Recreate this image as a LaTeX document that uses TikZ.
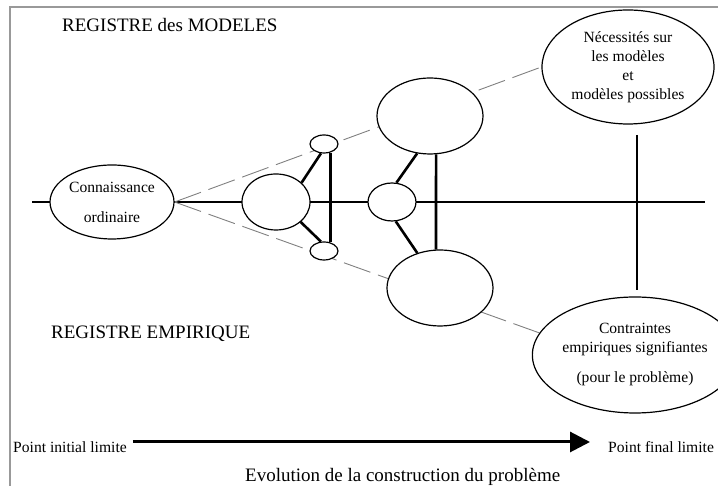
\documentclass[tikz,border=0pt]{standalone}
\usepackage{fontspec}
\setmainfont{Liberation Serif}
\usetikzlibrary{shapes.geometric,arrows.meta,backgrounds}

\begin{document}
\begin{tikzpicture}[x=1pt,y=1pt,
    blob/.style={ellipse,draw,fill=white,line width=1.2pt,inner sep=0pt},
    tie/.style={line width=2.6pt},
    guide/.style={draw=gray,line width=0.9pt,dash pattern=on 28pt off 8pt},
    big/.style={font=\fontsize{19pt}{23pt}\selectfont,inner sep=0pt},
    small/.style={font=\fontsize{15.6pt}{19pt}\selectfont,align=center}]
        \useasboundingbox (0,0) rectangle (718,486);
        %\draw[help lines,step=50] (0,0) grid (718,486);
        \draw[gray!80,line width=1.2pt] (718,479) -- (10,479) -- (10,0);
        % ellipses with text
        \node[blob,small,minimum width=124,minimum height=74] (conn) at (112,284)
            {Connaissance\\[11pt]ordinaire};
        \node[blob,small,minimum width=172,minimum height=114] (nec) at (628,419)
            {N\'ecessit\'es sur\\les mod\`eles\\et\hspace*{24pt}\\mod\`eles possibles};
        \node[blob,small,minimum width=166,minimum height=116] (con) at (635,131)
            {Contraintes\\empiriques signifiantes\\[11pt](pour le probl\`eme)};
        % empty ellipses
        \foreach \n/\x/\y/\w/\h in {m1/276/284/68/56, m2/392/284/48/38,
                su/324/342/28/18, sl/324/235/28/18,
                bu/430/370/106/76, bl/440/198/106/76}
            \node[blob,minimum width=\w,minimum height=\h] (\n) at (\x,\y) {};
        \coordinate (lstart) at (32,284);
        \coordinate (lend) at (705,284);
        \coordinate (vt) at (637,351);
        \coordinate (vb) at (637,196);
        \begin{pgfonlayer}{background}
            \draw[line width=1.2pt] (lstart) -- (lend);
            \draw[guide] (conn.east) -- (nec.west);
            \draw[guide] (conn.east) -- (con.167);
        \end{pgfonlayer}
        \draw[tie] (m1.37) -- (su.252);
        \draw[tie] (m1.321) -- (sl.108);
        \draw[tie] (su.306) -- (sl.54);
        \draw[tie] (m2.77) -- (bu.251);
        \draw[tie] (m2.281) -- (bl.123);
        \draw[tie] (bu.279) -- (bl.96);
        \draw[tie] (vt) -- (vb);
        % labels
        \node[big,anchor=base west] (rmod) at (62,454) {REGISTRE des MODELES};
        \node[big,anchor=base west] (remp) at (51,147) {REGISTRE EMPIRIQUE};
        \node[small,inner sep=0pt,anchor=base west] (pini) at (13,33) {Point initial limite};
        \node[small,inner sep=0pt,anchor=base west] (pfin) at (608,33) {Point final limite};
        \node[big,anchor=base west] (evol) at (245,4) {Evolution de la construction du probl\`eme};
        \coordinate (atip) at (590,44);
        \draw[line width=3pt,-{Triangle[length=20pt,width=20pt]}] (pini.east |- atip) ++(6,0) -- (atip);
    \end{tikzpicture}
\end{document}
